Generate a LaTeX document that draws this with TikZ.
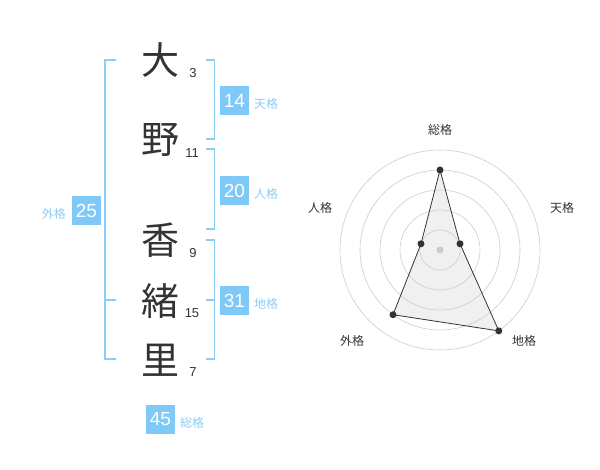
\documentclass[tikz,border=0pt]{standalone}
\usepackage{fontspec}
\setmainfont{Liberation Sans}
\newfontfamily\jp{Noto Sans CJK JP}
\definecolor{brk}{HTML}{8ACDF6}
\definecolor{boxc}{HTML}{7FC9F8}
\definecolor{lbl}{HTML}{8CCDF2}
\definecolor{ink}{HTML}{333333}
\definecolor{ring}{HTML}{CCCCCC}
\begin{document}
\begin{tikzpicture}[x=1pt,y=-1pt,
  kanji/.style={font=\jp\fontsize{38}{38}\selectfont, text=ink, inner sep=0pt},
  stroke/.style={font=\fontsize{13}{13}\selectfont, text=ink, inner sep=0pt},
  valbox/.style={fill=boxc, text=white, minimum width=29pt, minimum height=29pt, inner sep=0pt, font=\fontsize{19}{19}\selectfont},
  kaku/.style={font=\jp\fontsize{12}{12}\selectfont, text=lbl, inner sep=0pt},
  bracket/.style={draw=brk, line width=1.8pt},
  axlbl/.style={font=\jp\fontsize{12}{12}\selectfont, text=ink, inner sep=0pt},
  dot/.style={circle, fill=ink, inner sep=0pt, minimum size=7pt}]
\useasboundingbox (0,0) rectangle (600,470);
% characters
\node[kanji] (c1) at (160,60) {大};
\node[kanji] (c2) at (160,140) {野};
\node[kanji] (c3) at (160,240) {香};
\node[kanji] (c4) at (160,301) {緒};
\node[kanji] (c5) at (160,360) {里};
\node[stroke] (n1) at (193,73) {3};
\node[stroke] (n2) at (192,153) {11};
\node[stroke] (n3) at (193,253) {9};
\node[stroke] (n4) at (192,313) {15};
\node[stroke] (n5) at (193,372) {7};
% brackets
\draw[bracket] (116,60) -- (105,60) -- (105,359) -- (116,359);
\draw[bracket] (105,300) -- (116,300);
\draw[bracket] (206,60) -- (214.5,60) -- (214.5,139) -- (206,139);
\draw[bracket] (206,149) -- (214.5,149) -- (214.5,229) -- (206,229);
\draw[bracket] (206,240) -- (214.5,240) -- (214.5,359) -- (206,359);
\draw[bracket] (206,300) -- (214.5,300);
% value boxes
\node[valbox] (ten) at (234.5,100.5) {14};
\node[kaku, anchor=west] (tenl) at (254,104) {天格};
\node[valbox] (jin) at (234.5,190.5) {20};
\node[kaku, anchor=west] (jinl) at (254,194) {人格};
\node[valbox] (chi) at (234.5,300.5) {31};
\node[kaku, anchor=west] (chil) at (254,304) {地格};
\node[valbox] (gai) at (86.5,210.5) {25};
\node[kaku, anchor=east] (gail) at (66,214) {外格};
\node[valbox] (sou) at (160.5,419) {45};
\node[kaku, anchor=west] (soul) at (180,423) {総格};
% radar
\coordinate (O) at (440,250);
\path (O) ++(0,-80) coordinate (pS);
\path (O) ++(20,-6.2) coordinate (pT);
\path (O) ++(58.8,80.9) coordinate (pC);
\path (O) ++(-47,64.7) coordinate (pG);
\path (O) ++(-19,-6.2) coordinate (pJ);
\fill[black!6] (pS) -- (pT) -- (pC) -- (pG) -- (pJ) -- cycle;
\foreach \r in {20,40,60,80,100} \draw[ring, line width=0.6pt] (O) circle[radius=\r];
\fill[ring] (O) circle[radius=3.5];
\draw[ink, line width=0.8pt] (pS) -- (pT) -- (pC) -- (pG) -- (pJ) -- cycle;
\foreach \p in {pS,pT,pC,pG,pJ} \node[dot] at (\p) {};
\node[axlbl] (aS) at (440,130) {総格};
\node[axlbl] (aT) at (562,208) {天格};
\node[axlbl] (aC) at (524,341) {地格};
\node[axlbl] (aG) at (352,341) {外格};
\node[axlbl] (aJ) at (320,208) {人格};
\end{tikzpicture}
\end{document}
